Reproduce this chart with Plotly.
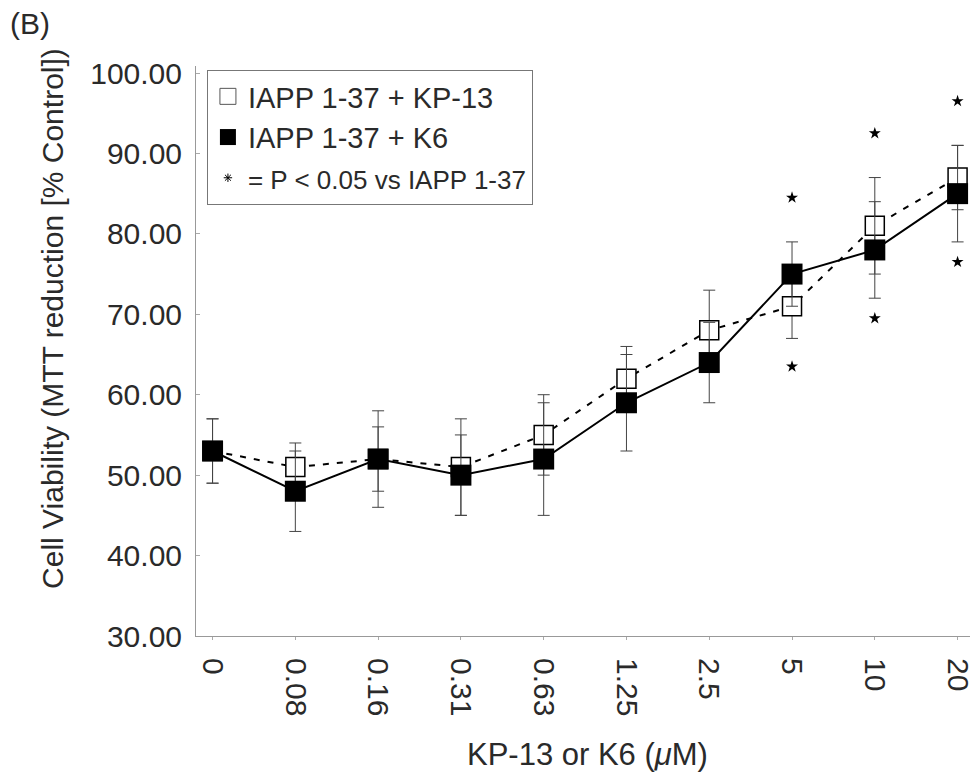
import plotly.graph_objects as go

# Concentrations (µM) shown as evenly spaced categories
conc_labels = ["0", "0.08", "0.16", "0.31", "0.63", "1.25", "2.5", "5", "10", "20"]

# Cell viability, MTT reduction as % of control (mean and error)
kp13_mean = [53, 51, 52, 51, 55, 62, 68, 71, 81, 87]
kp13_err = [4, 3, 4, 6, 5, 4, 5, 4, 6, 4]
k6_mean = [53, 48, 52, 50, 52, 59, 64, 75, 78, 85]
k6_err = [4, 5, 6, 5, 7, 6, 5, 4, 6, 6]

# Significance markers (P < 0.05 vs IAPP 1-37)
star_idx = [7, 8, 9]
star_upper = [84.5, 92.5, 96.5]
star_lower = [63.5, 69.5, 76.5]

xi = list(range(len(conc_labels)))
FONT = "Liberation Sans, Arial, sans-serif"
TXT = "#2a2a2a"

# Plot-area geometry in pixels, used to place free-standing text
L, R, T, B = 196, 4, 66, 139
W, H = 979, 775
PW, PH = W - L - R, H - T - B


def px_x(x):
    return (x - L) / PW


def px_y(y):
    return (H - B - y) / PH


fig = go.Figure()

# KP-13 series: dashed line with open squares
fig.add_trace(go.Scatter(
    x=xi, y=kp13_mean, mode="lines+markers", showlegend=False,
    line=dict(color="black", width=2, dash="6px,8px"),
    marker=dict(symbol="square", size=19, color="white",
                line=dict(color="black", width=1.5)),
    error_y=dict(type="data", array=kp13_err, visible=True,
                 color="#444", thickness=1, width=6),
))

# K6 series: solid line with filled squares
fig.add_trace(go.Scatter(
    x=xi, y=k6_mean, mode="lines+markers", showlegend=False,
    line=dict(color="black", width=2),
    marker=dict(symbol="square", size=21, color="black",
                line=dict(color="black", width=0)),
    error_y=dict(type="data", array=k6_err, visible=True,
                 color="#444", thickness=1, width=6),
))

# Significance stars above and below
fig.add_trace(go.Scatter(
    x=star_idx + star_idx, y=star_upper + star_lower, mode="markers",
    showlegend=False,
    marker=dict(symbol="star", size=9, color="black"),
))

# Legend entries
fig.add_trace(go.Scatter(
    x=[None], y=[None], mode="markers", name="IAPP 1-37 + KP-13",
    marker=dict(symbol="square", size=17, color="white",
                line=dict(color="#555", width=1)),
))
fig.add_trace(go.Scatter(
    x=[None], y=[None], mode="markers", name="IAPP 1-37 + K6",
    marker=dict(symbol="square", size=17, color="black"),
))
fig.add_trace(go.Scatter(
    x=[None], y=[None], mode="markers",
    name="<span style='font-size:26px'>= P &lt; 0.05 vs IAPP 1-37</span>",
    marker=dict(symbol="asterisk-open", size=7, color="black",
                line=dict(color="black", width=1)),
))

fig.update_layout(
    width=W, height=H,
    margin=dict(l=L, r=R, t=T, b=B),
    paper_bgcolor="white", plot_bgcolor="white",
    font=dict(family=FONT, size=30, color=TXT),
    legend=dict(
        x=px_x(207), y=px_y(70), xanchor="left", yanchor="top",
        bgcolor="white", bordercolor="#777", borderwidth=1,
        font=dict(family=FONT, size=29, color=TXT),
        tracegroupgap=0, itemwidth=30,
    ),
    xaxis=dict(
        tickmode="array", tickvals=xi, ticktext=conc_labels,
        range=[-0.2, 9.15], tickangle=90,
        showline=True, linecolor="#999", linewidth=1,
        ticks="outside", ticklen=3, tickcolor="#aaa",
        showgrid=False, zeroline=False,
        tickfont=dict(family=FONT, size=30, color=TXT),
        ticklabelstandoff=12, ticklabeloverflow="allow",
    ),
    yaxis=dict(
        range=[30, 100.87],
        tickmode="array", tickvals=[30, 40, 50, 60, 70, 80, 90, 100],
        ticktext=["30.00", "40.00", "50.00", "60.00", "70.00",
                  "80.00", "90.00", "100.00"],
        showline=True, linecolor="#999", linewidth=1,
        ticks="inside", ticklen=4, tickcolor="#aaa",
        showgrid=False, zeroline=False,
        tickfont=dict(family=FONT, size=30, color=TXT),
        ticklabelstandoff=7,
    ),
)

# Panel label and axis titles
fig.add_annotation(
    text="(B)", xref="paper", yref="paper",
    x=px_x(7), y=px_y(24), xanchor="left", yanchor="middle",
    showarrow=False, font=dict(family=FONT, size=30, color=TXT),
)
fig.add_annotation(
    text="Cell Viability (MTT reduction [% Control])",
    xref="paper", yref="paper", textangle=-90,
    x=px_x(51), y=px_y(318), xanchor="center", yanchor="middle",
    showarrow=False, font=dict(family=FONT, size=30, color=TXT),
)
fig.add_annotation(
    text="KP-13 or K6 (<i>μ</i>M)",
    xref="paper", yref="paper",
    x=px_x(590), y=px_y(754), xanchor="center", yanchor="middle",
    showarrow=False, font=dict(family=FONT, size=31, color=TXT),
)

fig.write_html("out.html")
